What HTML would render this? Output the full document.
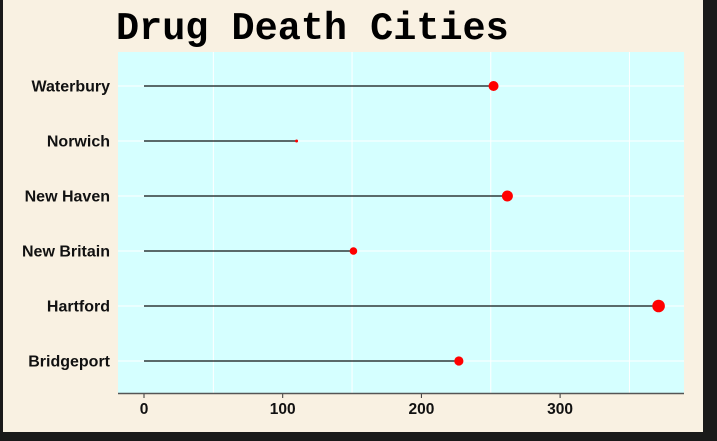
<!DOCTYPE html>
<html><head><meta charset="utf-8"><style>
body{margin:0;background:#1a1a1a;}
svg{display:block}
</style></head><body>
<svg width="717" height="441">
<rect x="3" y="0" width="700" height="432" fill="#F9F1E2"/>
<text x="116" y="39" font-family="Liberation Mono, monospace" font-weight="bold" font-size="38.5" fill="#000">Drug Death Cities</text>
<rect x="118" y="52" width="566" height="341" fill="#D5FFFF"/>
<g id="g"></g>
<line x1="118" y1="393.5" x2="684" y2="393.5" stroke="#555" stroke-width="1.5"/>
</svg>
<script>
const cities=["Waterbury","Norwich","New Haven","New Britain","Hartford","Bridgeport"];
const deaths=[252,110,262,151,371,227];
const sizes=[5,1.5,5.5,3.8,6.3,4.6];
const ticks=[0,100,200,300];
const minor=[50,150,250,350];
const g=document.getElementById('g');
const NS='http://www.w3.org/2000/svg';
const x=v=>144+v*1.387;
const y=i=>86+i*55;
function mk(t,a){const e=document.createElementNS(NS,t);for(const k in a)e.setAttribute(k,a[k]);g.appendChild(e);return e;}
minor.forEach(v=>{const l=mk('line',{x1:x(v),x2:x(v),y1:52,y2:393,stroke:'#fff','stroke-width':1});

});
cities.forEach((c,i)=>{const l=mk('line',{x1:118,x2:684,y1:y(i),y2:y(i),stroke:'#fff','stroke-width':1});

});
ticks.forEach(v=>{const t=mk('line',{x1:x(v),x2:x(v),y1:393,y2:398,stroke:'#333','stroke-width':1});


const tx=mk('text',{x:x(v),y:414,'text-anchor':'middle','font-family':'Liberation Sans, sans-serif','font-weight':'bold','font-size':15.5,fill:'#111'});
tx.textContent=v;

});
cities.forEach((c,i)=>{
const tx=mk('text',{x:110,y:y(i)+5.5,'text-anchor':'end','font-family':'Liberation Sans, sans-serif','font-weight':'bold','font-size':16,fill:'#111'});
tx.textContent=c;


const l=mk('line',{x1:x(0),x2:x(deaths[i]),y1:y(i),y2:y(i),stroke:'#111','stroke-width':1.3});


const p=mk('circle',{cx:x(deaths[i]),cy:y(i),r:sizes[i],fill:'#ff0000'});


});
</script>
</body></html>
